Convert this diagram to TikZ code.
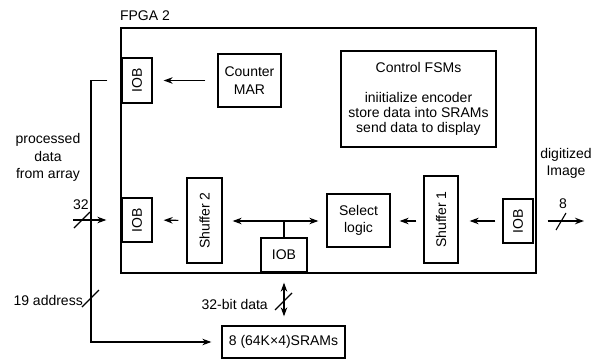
\documentclass[tikz,border=0pt]{standalone}
\usepackage{fontspec}
\setmainfont{Liberation Sans}
\usetikzlibrary{arrows.meta}
\begin{document}
\begin{tikzpicture}[x=1pt,y=-1pt,
  every node/.style={font=\fontsize{14}{17.5}\selectfont, inner sep=0pt},
  blk/.style={draw, line width=1.3pt, minimum width=#1},
  txt/.style={align=center},
  con/.style={line width=1.2pt},
  arr/.style={con,-{Stealth[length=9pt,width=6.5pt]}},
  darr/.style={con,{Stealth[length=9pt,width=6.5pt]}-{Stealth[length=9pt,width=6.5pt]}},
  slash/.style={line width=1.1pt}]
\useasboundingbox (0,0) rectangle (604,361);
% FPGA box
\node[blk=415pt, minimum height=245pt] (fpga) at (328.5,150.5) {};
\node (fpgalbl) at (145,16) {FPGA 2};
% blocks
\node[blk=30pt, minimum height=45pt] (iob1) at (137,80.5) {};
\node[rotate=90] at (iob1) {IOB};
\node[blk=63pt, minimum height=53pt, txt] (counter) at (249.5,80.5) {Counter\\MAR};
\node[blk=155pt, minimum height=96pt] (control) at (418.5,99) {};
\node (ctitle) at (418.5,67) {Control FSMs};
\node[txt] (ctext) at (418.5,113.5) {iniitialize encoder\\[-2.5pt]store data into SRAMs\\[-2.5pt]send data to display};
\node[blk=30pt, minimum height=44pt] (iob2) at (137,220) {};
\node[rotate=90] at (iob2) {IOB};
\node[blk=35pt, minimum height=85pt] (shuf2) at (204.5,220.5) {};
\node[rotate=90] at (shuf2) {Shuffer 2};
\node[blk=46pt, minimum height=34pt] (iob3) at (284,255) {IOB};
\node[blk=63pt, minimum height=53pt, txt] (select) at (358.5,220.5) {Select\\logic};
\node[blk=34pt, minimum height=87pt] (shuf1) at (441,219.5) {};
\node[rotate=90] at (shuf1) {Shuffer 1};
\node[blk=30pt, minimum height=44pt] (iob4) at (518,221) {};
\node[rotate=90] at (iob4) {IOB};
\node[blk=123pt, minimum height=32pt] (sram) at (283.5,342) {8 (64K\texttimes4)SRAMs};
% side labels
\node[txt] (proc) at (48,157.5) {processed\\data\\from array};
\node[txt] (digit) at (566,163.5) {digitized\\Image};
\node[anchor=east] (addr) at (83,300) {19 address};
\node[anchor=east] (bitdata) at (268,304) {32-bit data};
\node (n32) at (81,205) {32};
\node (n8) at (563,204) {8};
% coordinates
\coordinate (bus) at (91,80.5);
\coordinate (in32) at (73,220);
\coordinate (out8) at (584,221);
\coordinate (tee) at (284,221);
% connectors
\draw[arr, shorten <=12pt, shorten >=11pt] (counter.west) -- (iob1.east);
\draw[arr, shorten <=14pt, shorten >=10pt] (iob1.west) -- (bus) |- (sram.west);
\draw[arr, shorten >=15pt] (in32) -- (iob2.west);
\draw[arr, shorten <=8pt, shorten >=11pt] (shuf2.west) -- (iob2.east);
\draw[darr, shorten <=10pt, shorten >=8pt] (shuf2.east |- tee) -- (select.west |- tee);
\draw[con] (tee) -- (iob3.north);
\draw[arr, shorten <=7pt, shorten >=9pt] (shuf1.west |- tee) -- (select.east |- tee);
\draw[arr, shorten <=7pt, shorten >=11pt] (iob4.west) -- (shuf1.east |- iob4.west);
\draw[arr, shorten <=14pt] (iob4.east) -- (out8);
\draw[darr, shorten <=10pt, shorten >=9pt] (iob3.south) -- (iob3.south |- sram.north);
% bus-width slashes
\draw[slash] (74,228) -- (90,212);
\draw[slash] (556,230) -- (566,213);
\draw[slash] (82,307) -- (99,290);
\draw[slash] (275,310) -- (292,293);
\end{tikzpicture}
\end{document}
